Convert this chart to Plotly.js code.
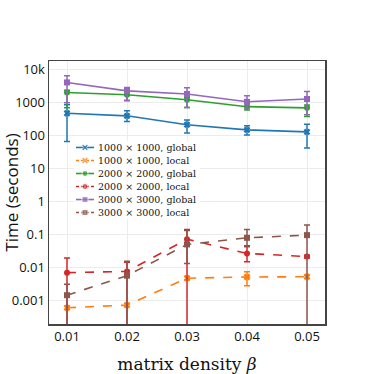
<!DOCTYPE html>
<html>
<head>
<meta charset="utf-8">
<script src="https://cdn.plot.ly/plotly-3.0.1.min.js"></script>
<style>
  html, body { margin: 0; padding: 0; background: #fff; }
  #chart { width: 374px; height: 374px; }
</style>
</head>
<body>
<div id="chart"></div>
<script>
// ─────────────────────────────
// DATOS
// ─────────────────────────────
const density = [0.01, 0.02, 0.03, 0.04, 0.05];

const names = [
  '1000 × 1000, global',
  '1000 × 1000, local',
  '2000 × 2000, global',
  '2000 × 2000, local',
  '3000 × 3000, global',
  '3000 × 3000, local'
];

// valores medios
const g1000 = [480, 400, 215, 150, 130];
const l1000 = [0.00058, 0.0007, 0.0046, 0.005, 0.0051];
const g2000 = [2050, 1750, 1230, 760, 700];
const l2000 = [0.0068, 0.0074, 0.071, 0.026, 0.021];
const g3000 = [4150, 2300, 1850, 1070, 1300];
const l3000 = [0.0014, 0.0055, 0.049, 0.078, 0.094];

// extremos de las barras de error (alto / bajo)
const g1000Hi = [870, 570, 300, 200, 220];
const g1000Lo = [66, 270, 120, 105, 42];
const l1000Hi = [0.00065, 0.00078, 0.0052, 0.0072, 0.0056];
const l1000Lo = [0.00052, 0.00063, 0.0041, 0.0027, 0.0046];
const g2000Hi = [2400, 2050, 1450, 950, 850];
const g2000Lo = [700, 1150, 720, 600, 380];
const l2000Hi = [0.019, 0.014, 0.14, 0.045, 0.023];
const l2000Lo = [1e-6, 1e-6, 1e-6, 0.0145, 0.019];
const g3000Hi = [6600, 2900, 2850, 1630, 2200];
const g3000Lo = [1000, 1200, 720, 690, 430];
const l3000Hi = [0.003, 0.015, 0.13, 0.14, 0.19];
const l3000Lo = [1e-6, 1e-6, 0.013, 0.042, 1e-6];

const colors = ['#1f77b4', '#ff7f0e', '#2ca02c', '#d62728', '#9467bd', '#8c564b'];
const symbols = ['x', 'x', 'circle', 'circle', 'square', 'square'];

// ─────────────────────────────
// TRAZAS
// ─────────────────────────────
const series = [
  [g1000, g1000Hi, g1000Lo, 'solid'],
  [l1000, l1000Hi, l1000Lo, 'dash'],
  [g2000, g2000Hi, g2000Lo, 'solid'],
  [l2000, l2000Hi, l2000Lo, 'dash'],
  [g3000, g3000Hi, g3000Lo, 'solid'],
  [l3000, l3000Hi, l3000Lo, 'dash']
];

const traces = series.map(([y, hi, lo, dash], i) => ({
  x: density,
  y,
  name: names[i],
  type: 'scatter',
  mode: 'lines+markers',
  showlegend: false,
  line: { color: colors[i], width: 1.6, dash },
  marker: { color: colors[i], symbol: symbols[i], size: 6 },
  error_y: {
    type: 'data',
    symmetric: false,
    array: hi.map((h, k) => h - y[k]),
    arrayminus: lo.map((l, k) => y[k] - l),
    color: colors[i],
    thickness: 1.5,
    width: 3
  }
}));

// ─────────────────────────────
// Leyenda compacta (ejes auxiliares x2/y2)
// ─────────────────────────────
const legendAnnots = [];
series.forEach(([, , , dash], i) => {
  traces.push({
    x: [2, 11, 20],
    y: [i + 0.5, i + 0.5, i + 0.5],
    xaxis: 'x2',
    yaxis: 'y2',
    type: 'scatter',
    mode: 'lines+markers',
    showlegend: false,
    hoverinfo: 'skip',
    line: { color: colors[i], width: 1.6, dash: dash === 'dash' ? '3px,2px' : 'solid' },
    marker: { color: colors[i], symbol: symbols[i], size: [0, 6, 0] }
  });
  legendAnnots.push({
    xref: 'x2', yref: 'y2',
    x: 23, y: i + 0.5,
    xanchor: 'left', yanchor: 'middle',
    borderpad: 0,
    text: names[i],
    showarrow: false,
    font: { family: 'DejaVu Serif, serif', size: 9.5, color: '#111' }
  });
});

// ─────────────────────────────
// LAYOUT
// ─────────────────────────────
const axisBase = {
  showline: true,
  mirror: true,
  linecolor: '#444',
  linewidth: 1.5,
  gridcolor: '#ececec',
  zeroline: false,
  ticks: '',
  tickfont: { family: 'Open Sans, sans-serif', size: 13, color: '#111' }
};

const layout = {
  width: 374,
  height: 374,
  margin: { l: 49, r: 49, t: 61, b: 50 },
  paper_bgcolor: '#fff',
  plot_bgcolor: '#fff',
  showlegend: false,
  xaxis: {
    ...axisBase,
    range: [0.007, 0.053],
    tickvals: density,
    ticktext: ['0.01', '0.02', '0.03', '0.04', '0.05'],
    title: {
      text: 'matrix density <i>β</i>',
      font: { family: 'DejaVu Serif, serif', size: 17, color: '#111' },
      standoff: 14
    }
  },
  yaxis: {
    ...axisBase,
    type: 'log',
    range: [-3.73, 4.27],
    tickvals: [0.001, 0.01, 0.1, 1, 10, 100, 1000, 10000],
    ticktext: ['0.001', '0.01', '0.1', '1', '10', '100', '1000', '10k'],
    title: {
      text: 'Time (seconds)',
      font: { family: 'Open Sans, sans-serif', size: 17, color: '#111' },
      standoff: 4
    }
  },
  xaxis2: {
    domain: [0.0906, 0.547],
    range: [0, 126],
    anchor: 'y2',
    visible: false,
    fixedrange: true
  },
  yaxis2: {
    domain: [0.399, 0.696],
    range: [6, 0],
    anchor: 'x2',
    visible: false,
    fixedrange: true
  },
  shapes: [{
    type: 'rect',
    xref: 'x2', yref: 'y2',
    x0: 0, x1: 126, y0: 0, y1: 6,
    fillcolor: '#fff',
    line: { width: 0 },
    layer: 'between'
  }],
  annotations: legendAnnots
};

Plotly.newPlot('chart', traces, layout, { displayModeBar: false, staticPlot: true });
</script>
</body>
</html>
